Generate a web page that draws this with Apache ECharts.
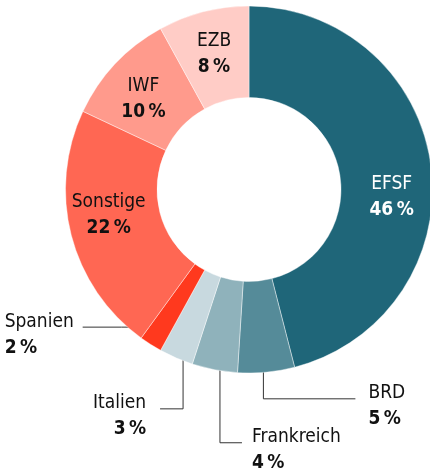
<!DOCTYPE html>
<html>
<head>
<meta charset="utf-8">
<script src="https://cdn.jsdelivr.net/npm/echarts@6/dist/echarts.min.js"></script>
<style>
html, body { margin: 0; padding: 0; background: #fff; }
#chart { width: 430px; height: 472px; }
</style>
</head>
<body>
<div id="chart"></div>
<script>
// Anteile in Prozent, im Uhrzeigersinn ab 12 Uhr
const names = ['EFSF', 'BRD', 'Frankreich', 'Italien', 'Spanien', 'Sonstige', 'IWF', 'EZB'];
const shares = [46, 5, 4, 3, 2, 22, 10, 8];
const colors = ['#1f6679', '#558b99', '#8fb2bb', '#c8d9df', '#ff391e', '#ff6753', '#ff9a8c', '#ffccc6'];

const font = "'Liberation Sans Narrow', 'DejaVu Sans Condensed', sans-serif";
const cx = 249, cy = 189.5, rIn = 92, rOut = 183.5;

// innen liegende Beschriftungen: kleine Verschiebung
const insideShift = {
  EFSF: [3, 25], Sonstige: [-4, -9], IWF: [-3, 6], EZB: [0, 1]
};
// außen liegende Beschriftungen: Startradius, Knick, Linienende, Textlage
const outside = {
  Spanien:    { r: 163, bend: [-40, 0], end: [-79, 0], align: 'left',  tx: -78 },
  Italien:    { r: 166, bend: [0, 67],  end: [-23, 67], align: 'right', tx: -14 },
  Frankreich: { r: 155, bend: [0, 101], end: [22, 101], align: 'left',  tx: 10 },
  BRD:        { r: 153, bend: [0, 57],  end: [92, 57],  align: 'left',  tx: 13 }
};

const total = shares.reduce((a, b) => a + b, 0);
function midAngle(i) {
  let before = 0;
  for (let k = 0; k < i; k++) before += shares[k];
  return (before + shares[i] / 2) / total * 2 * Math.PI;
}

const data = names.map((n, i) => {
  const item = { name: n, value: shares[i], itemStyle: { color: colors[i] } };
  if (!outside[n]) {
    item.label = { position: 'inside', color: n === 'EFSF' ? '#fff' : '#111' };
    item.labelLine = { show: false };
  }
  return item;
});

const myChart = echarts.init(document.getElementById('chart'));
myChart.setOption({
  animation: false,
  series: [{
    type: 'pie',
    center: [cx, cy],
    radius: [rIn, rOut],
    startAngle: 90,
    clockwise: true,
    avoidLabelOverlap: false,
    emphasis: { disabled: true },
    itemStyle: { borderColor: 'rgba(255,255,255,0.6)', borderWidth: 0.7 },
    label: {
      show: true,
      position: 'outside',
      color: '#111',
      fontFamily: font,
      formatter: '{n|{b}}\n{p|{c}\u2009%}',
      rich: {
        n: { fontFamily: font, fontSize: 19, lineHeight: 26 },
        p: { fontFamily: font, fontSize: 19, fontWeight: 'bold', lineHeight: 26 }
      }
    },
    labelLine: {
      show: true,
      lineStyle: { color: '#333', width: 1 }
    },
    labelLayout: function (params) {
      const name = names[params.dataIndex];
      const o = outside[name];
      if (o) {
        const a = midAngle(params.dataIndex);
        const sx = cx + o.r * Math.sin(a), sy = cy - o.r * Math.cos(a);
        const ex = sx + o.end[0], ey = sy + o.end[1];
        return {
          x: ex + o.tx, y: ey + 7.5, align: o.align, verticalAlign: 'middle',
          labelLinePoints: [[sx, sy], [sx + o.bend[0], sy + o.bend[1]], [ex, ey]]
        };
      }
      const s = insideShift[name] || [0, 0];
      return { dx: s[0], dy: s[1] };
    },
    data: data
  }]
});
</script>
</body>
</html>
